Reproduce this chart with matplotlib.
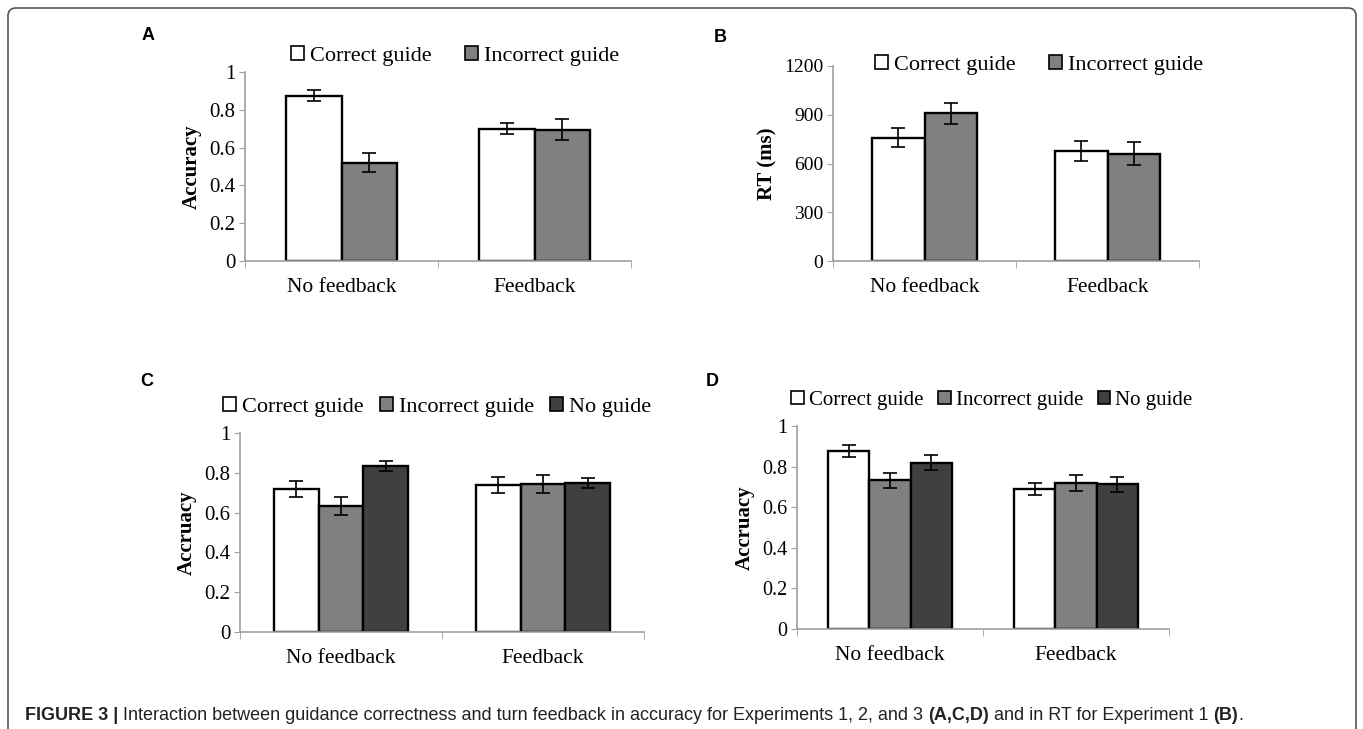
import numpy as np
import matplotlib
matplotlib.use("Agg")
import matplotlib.pyplot as plt
from matplotlib.patches import Patch, FancyBboxPatch

# data
groups = ["No feedback", "Feedback"]

a_labels = ["Correct guide", "Incorrect guide"]
a_vals = [[0.875, 0.70], [0.52, 0.695]]
a_err = [[0.03, 0.03], [0.05, 0.055]]

b_labels = ["Correct guide", "Incorrect guide"]
b_vals = [[760, 675], [910, 660]]
b_err = [[60, 62], [65, 70]]

c_labels = ["Correct guide", "Incorrect guide", "No guide"]
c_vals = [[0.72, 0.74], [0.633, 0.745], [0.833, 0.748]]
c_err = [[0.04, 0.04], [0.043, 0.045], [0.025, 0.025]]

d_labels = ["Correct guide", "Incorrect guide", "No guide"]
d_vals = [[0.875, 0.69], [0.733, 0.72], [0.82, 0.712]]
d_err = [[0.03, 0.03], [0.037, 0.038], [0.035, 0.035]]

colors = ["white", "#808080", "#404040"]
serif = "Liberation Serif"
W, H = 1363, 729

fig = plt.figure(figsize=(W / 100, H / 100), dpi=100)


def px_axes(l, r, top, bot):
    return fig.add_axes([l / W, 1 - bot / H, (r - l) / W, (bot - top) / H])


def panel(ax, labels, vals, errs, width, ylim, yticks, yticklabels, ylabel,
          tick_fs, leg_xy, leg_fs, colspace):
    n = len(labels)
    x = np.arange(len(groups))
    offs = (np.arange(n) - (n - 1) / 2) * width
    handles = []
    for i in range(n):
        ax.bar(x + offs[i], vals[i], width, color=colors[i], edgecolor="black",
               linewidth=1.7, zorder=2)
        ax.errorbar(x + offs[i], vals[i], yerr=errs[i], fmt="none", ecolor="black",
                    elinewidth=1.2, capsize=5, capthick=1.2, zorder=3)
        handles.append(Patch(facecolor=colors[i], edgecolor="black", linewidth=1.2))
    ax.set_xlim(-0.5, 1.5)
    ax.set_ylim(*ylim)
    ax.set_yticks(yticks)
    ax.set_yticklabels(yticklabels, fontsize=tick_fs, family=serif)
    ax.set_xticks(x)
    ax.set_xticklabels(groups, fontsize=15.5, family=serif)
    ax.set_xticks([-0.5, 0.5, 1.5], minor=True)
    ax.tick_params(axis="x", which="major", length=0, pad=12)
    ax.tick_params(axis="x", which="minor", length=5, color="#a0a0a0", direction="out")
    ax.tick_params(axis="y", length=4, color="#a0a0a0", pad=3)
    for s in ["top", "right"]:
        ax.spines[s].set_visible(False)
    for s in ["left", "bottom"]:
        ax.spines[s].set_color("#a0a0a0")
        ax.spines[s].set_linewidth(1.2)
    ax.set_ylabel(ylabel, fontsize=15, fontweight="bold", family=serif, labelpad=5)
    ax.legend(handles, labels, loc="center", ncol=n,
              bbox_to_anchor=(leg_xy[0] / W, 1 - leg_xy[1] / H),
              bbox_transform=fig.transFigure, frameon=False,
              prop={"family": serif, "size": leg_fs},
              handlelength=0.6, handleheight=0.6, handletextpad=0.25,
              columnspacing=colspace, borderpad=0)


axA = px_axes(245, 631, 72, 261)
panel(axA, a_labels, a_vals, a_err, 0.285, (0, 1), [0, 0.2, 0.4, 0.6, 0.8, 1],
      ["0", "0.2", "0.4", "0.6", "0.8", "1"], "Accuracy", 15, (455, 56), 16, 1.5)

axB = px_axes(833, 1199, 66, 261)
panel(axB, b_labels, b_vals, b_err, 0.285, (0, 1200), [0, 300, 600, 900, 1200],
      ["0", "300", "600", "900", "1200"], "RT (ms)", 14, (1039, 65), 16, 1.5)

axC = px_axes(240, 644, 433, 632)
panel(axC, c_labels, c_vals, c_err, 0.222, (0, 1), [0, 0.2, 0.4, 0.6, 0.8, 1],
      ["0", "0.2", "0.4", "0.6", "0.8", "1"], "Accruacy", 15, (437, 407), 16, 0.73)

axD = px_axes(797, 1169, 426, 629)
panel(axD, d_labels, d_vals, d_err, 0.222, (0, 1), [0, 0.2, 0.4, 0.6, 0.8, 1],
      ["0", "0.2", "0.4", "0.6", "0.8", "1"], "Accruacy", 14.5, (992, 400), 15, 0.7)

# panel letters
for lab, (px, py) in zip("ABCD", [(148, 36), (720, 37), (147, 382), (712, 382)]):
    fig.text(px / W, 1 - py / H, lab, fontsize=13, fontweight="bold",
             family="Liberation Sans", ha="center", va="center")

# frame
fig.patches.append(FancyBboxPatch((0.08, -0.2), 13.48, 7.41,
                                  boxstyle="round,pad=0,rounding_size=0.08",
                                  transform=fig.dpi_scale_trans, fill=False,
                                  edgecolor="#555555", linewidth=1.2))

# caption, pieces chained left to right
caption = [("FIGURE 3 | ", "bold"),
           ("Interaction between guidance correctness and turn feedback in accuracy "
            "for Experiments 1, 2, and 3 ", "normal"),
           ("(A,C,D)", "bold"),
           (" and in RT for Experiment 1 ", "normal"),
           ("(B)", "bold"),
           (".", "normal")]
renderer = fig.canvas.get_renderer()
xpos = 25
for txt, wt in caption:
    t = fig.text(xpos / W, 1 - 716 / H, txt, fontsize=13, fontweight=wt,
                 family="Liberation Sans", ha="left", va="center", color="#222222")
    bb = t.get_window_extent(renderer=renderer)
    xpos += bb.width

fig.savefig("out.png", dpi=100)
